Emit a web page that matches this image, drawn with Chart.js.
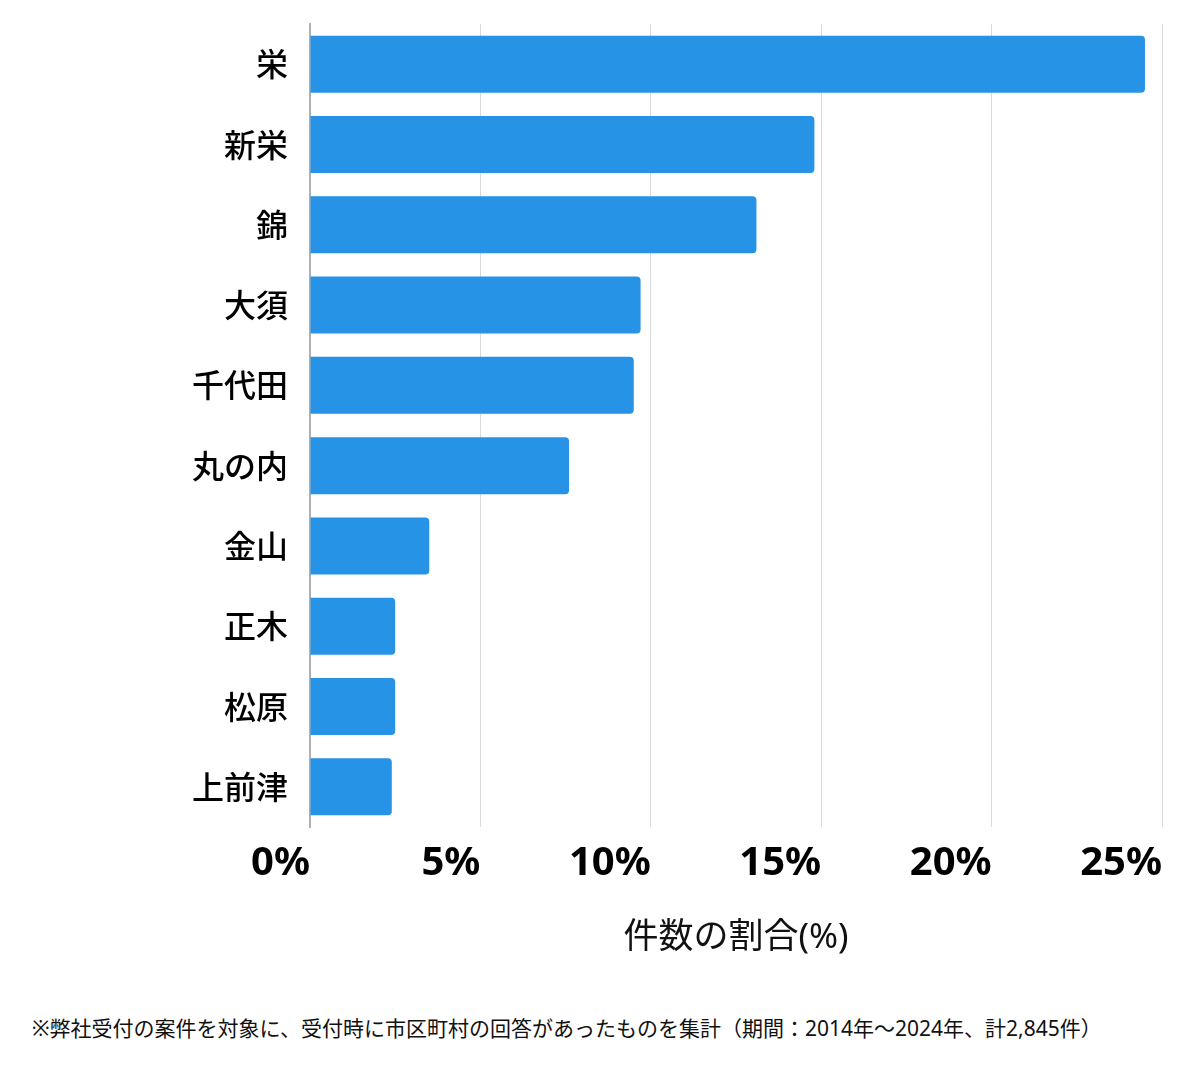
<!DOCTYPE html>
<html>
<head>
<meta charset="utf-8">
<script src="https://cdn.jsdelivr.net/npm/chart.js@4.4.1/dist/chart.umd.min.js"></script>
<style>
  html, body { margin: 0; padding: 0; background: #fff; }
  body { width: 1200px; height: 1069px; position: relative; overflow: hidden;
         font-family: 'Noto Sans', 'Noto Sans CJK JP', sans-serif; }
  #wrap { position: absolute; left: 0; top: 0; width: 1200px; height: 990px; }
  #note { position: absolute; left: 32px; top: 1012px; font-size: 21px; color: #111; white-space: nowrap; }
</style>
</head>
<body>
<div id="wrap"><canvas id="areaChart"></canvas></div>
<div id="note">※弊社受付の案件を対象に、受付時に市区町村の回答があったものを集計（期間：2014年～2024年、計2,845件）</div>
<script>
const areas = ['栄', '新栄', '錦', '大須', '千代田', '丸の内', '金山', '正木', '松原', '上前津'];
const shares = [24.5, 14.8, 13.1, 9.7, 9.5, 7.6, 3.5, 2.5, 2.5, 2.4];
const xTicks = [0, 5, 10, 15, 20, 25];
const axisTitle = '件数の割合(%)';

const fontFamily = "'Noto Sans', 'Noto Sans CJK JP', sans-serif";

new Chart(document.getElementById('areaChart'), {
    type: 'bar',
    data: {
        labels: areas,
        datasets: [{
            data: shares,
            backgroundColor: '#2693e6',
            borderRadius: 4,
            borderSkipped: 'start',
            barPercentage: 0.71,
            categoryPercentage: 1
        }]
    },
    options: {
        indexAxis: 'y',
        responsive: true,
        maintainAspectRatio: false,
        animation: false,
        layout: { padding: { top: 24, right: 38, left: 0, bottom: 0 } },
        plugins: {
            legend: { display: false },
            tooltip: { enabled: false }
        },
        scales: {
            x: {
                min: 0,
                max: 25,
                afterBuildTicks: function (scale) {
                    scale.ticks = xTicks.map(v => ({ value: v }));
                },
                afterFit: function (scale) {
                    scale.height = 163;
                    scale.paddingLeft = 0;
                    scale.paddingRight = 0;
                },
                grid: { color: '#d9d9d9', drawTicks: false },
                border: { display: false },
                ticks: {
                    align: 'end',
                    padding: 13,
                    color: '#000',
                    font: { family: fontFamily, size: 40, weight: 'bold' },
                    callback: v => v + '%'
                },
                title: {
                    display: true,
                    text: axisTitle,
                    color: '#111',
                    padding: { top: 0, bottom: 31 },
                    font: { family: fontFamily, size: 35 }
                }
            },
            y: {
                afterFit: function (scale) {
                    scale.width = 310;
                    scale.paddingTop = 0;
                    scale.paddingBottom = 0;
                },
                grid: { display: false, drawTicks: false },
                border: { display: true, color: '#b0b0b0', width: 2 },
                ticks: {
                    padding: 22,
                    labelOffset: 3,
                    color: '#000',
                    font: { family: fontFamily, size: 32, weight: 500 }
                }
            }
        }
    }
});
</script>
</body>
</html>
